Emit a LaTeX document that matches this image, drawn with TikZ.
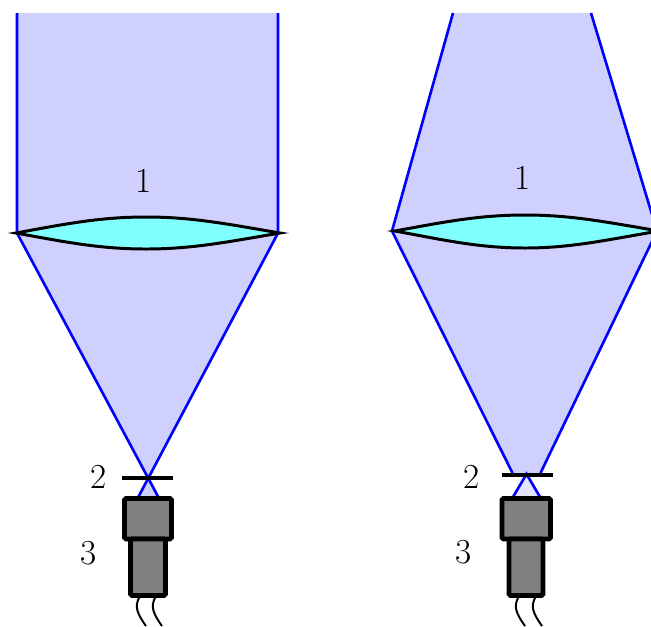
\documentclass[tikz,border=0pt]{standalone}
\definecolor{beamblue}{RGB}{208, 208, 255}
\definecolor{beampale}{RGB}{228, 228, 255}
\definecolor{lenscyan}{RGB}{128, 255, 255}
\definecolor{camgray}{RGB}{128, 128, 128}

\begin{document}
\begin{tikzpicture}[
    x=0.02cm, y=-0.02cm,
    ray/.style={draw=blue, line width=1.5pt},
    lens/.style={draw=black, fill=lenscyan, line width=1.7pt, miter limit=6},
    stopbar/.style={draw=black, line width=2.2pt},
    camera/.style={draw=black, fill=camgray, line width=2.7pt, rounded corners=0.8pt},
    wire/.style={draw=black, line width=1.1pt},
    lbl/.style={font=\fontsize{20}{22}\selectfont, inner sep=0pt},
]

\clip (0,0) rectangle (651,626);

% ================================================================
% LEFT: PARALLEL BEAM
% ================================================================
\fill[beamblue] (17,13) -- (278,13) -- (278,233) -- (147.7,476.7) -- (17,233) -- cycle;
\fill[beamblue] (147.7,476.7) -- (158.3,497) -- (138.3,497) -- cycle;

\draw[ray] (17,13) -- (17,233) -- (158.3,497);
\draw[ray] (278,13) -- (278,233) -- (138.3,497);

\draw[lens] (16,233) .. controls (65,224) and (100,217) .. (146,217)
  .. controls (192,217) and (227,224) .. (280,233)
  .. controls (227,242) and (192,249) .. (146,249)
  .. controls (100,249) and (65,242) .. (16,233) -- cycle;

\draw[stopbar] (122,478) -- (173,478);

\draw[camera] (124.5,498.5) rectangle (171.5,539);
\draw[camera] (130.5,539) rectangle (165.5,595.5);

\foreach \wx in {139,155} {
  \draw[wire] (\wx,598) .. controls (\wx-4,606) and (\wx-3,612) .. (\wx+7,626);
}

\node[lbl] (lensleft) at (144,181) {1};
\node[lbl] (stopleft) at (99,477) {2};
\node[lbl] (camleft) at (89,553) {3};

% ================================================================
% RIGHT: CONVERGING BEAM
% ================================================================
\fill[beamblue] (453,13) -- (591,13) -- (657,231) -- (540.5,473) -- (512.5,473) -- (392,231) -- cycle;
\fill[beampale] (526.5,474) -- (540,497) -- (513,497) -- cycle;

\draw[ray] (453,13) -- (392,231) -- (512.5,473);
\draw[ray] (591,13) -- (657,231) -- (540.5,473);
\draw[ray] (513,497) -- (526.5,474) -- (540,497);

\draw[lens] (395,231) .. controls (444,222) and (479,215) .. (525,215)
  .. controls (571,215) and (606,222) .. (659,231)
  .. controls (606,240) and (571,248) .. (525,248)
  .. controls (479,248) and (444,240) .. (395,231) -- cycle;

\draw[stopbar] (502,475) -- (553,475);

\draw[camera] (502,498.5) rectangle (550.5,539);
\draw[camera] (509,539) rectangle (543,595.5);

\foreach \wx in {518,535} {
  \draw[wire] (\wx,598) .. controls (\wx-4,606) and (\wx-3,612) .. (\wx+7,626);
}

\node[lbl] (lensright) at (523,178) {1};
\node[lbl] (stopright) at (472,477) {2};
\node[lbl] (camright) at (464,552) {3};

\end{tikzpicture}
\end{document}
